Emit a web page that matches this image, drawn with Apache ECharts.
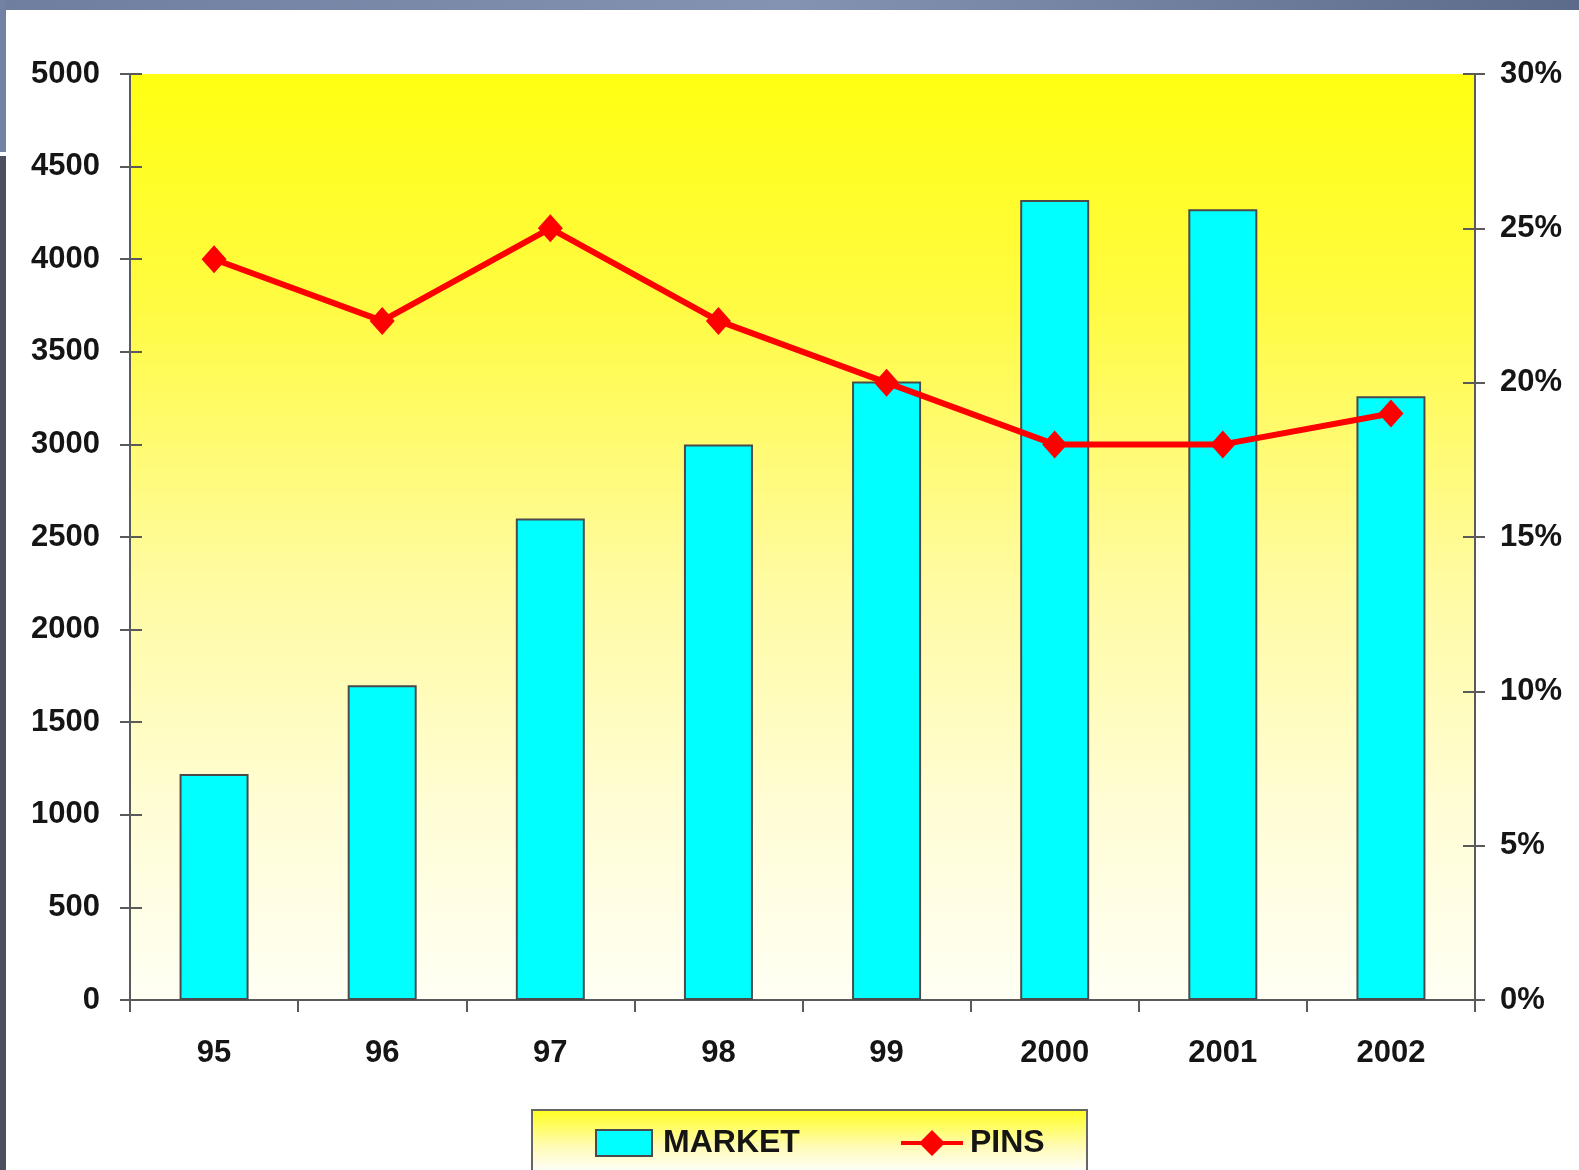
<!DOCTYPE html>
<html>
<head>
<meta charset="utf-8">
<title>MARKET / PINS</title>
<script src="https://cdn.jsdelivr.net/npm/echarts@6/dist/echarts.min.js"></script>
<style>
  html, body { margin: 0; padding: 0; background: #ffffff; }
  #chart { width: 1579px; height: 1170px; }
</style>
</head>
<body>
<div id="chart"></div>
<script>
// Years on the category axis
const years = ['95', '96', '97', '98', '99', '2000', '2001', '2002'];
// Market size (left axis)
const marketValues = [1220, 1700, 2600, 3000, 3340, 4320, 4270, 3260];
// PINS share in percent (right axis)
const pinsValues = [24, 22, 25, 22, 20, 18, 18, 19];
// Axis ranges
const leftMax = 5000, leftStep = 500;
const rightMax = 30, rightStep = 5;

const FONT = "'Liberation Sans Narrow', 'Arial Narrow', 'Liberation Sans', Arial, sans-serif";
const AXIS_COLOR = '#5a5a5a';

const chart = echarts.init(document.getElementById('chart'), null, { renderer: 'canvas' });

const labelStyle = {
  color: '#151515',
  fontFamily: FONT,
  fontWeight: 'bold',
  fontSize: 31
};

// red line with a diamond in the middle, used as the PINS legend key
const pinsIcon = 'path://M0,11H20L31,0L42,11H62V15H42L31,26L20,15H0Z';

const option = {
  animation: false,
  backgroundColor: '#ffffff',
  graphic: [
    // slide frame: top band and left strip
    {
      type: 'rect', z: -10, silent: true,
      shape: { x: 0, y: 0, width: 1579, height: 10 },
      style: {
        fill: new echarts.graphic.LinearGradient(0, 0, 1, 0, [
          { offset: 0, color: '#6f7e9e' },
          { offset: 0.5, color: '#8593b3' },
          { offset: 1, color: '#5d6b8b' }
        ])
      }
    },
    {
      type: 'rect', z: -10, silent: true,
      shape: { x: 0, y: 0, width: 6, height: 152 },
      style: { fill: '#7282a4' }
    },
    {
      type: 'rect', z: -10, silent: true,
      shape: { x: 0, y: 156, width: 6, height: 1014 },
      style: { fill: '#4b4f60' }
    },
    // legend panel
    {
      type: 'rect', z: 1, silent: true,
      shape: { x: 532, y: 1110, width: 555, height: 62 },
      style: {
        fill: new echarts.graphic.LinearGradient(0, 0, 0, 1, [
          { offset: 0, color: '#ffff1e' },
          { offset: 0.6, color: '#fffbb8' },
          { offset: 1, color: '#ffffff' }
        ]),
        stroke: '#666666',
        lineWidth: 2
      }
    }
  ],
  grid: {
    left: 130,
    right: 104,
    top: 74,
    bottom: 170,
    outerBoundsMode: 'none',
    containLabel: false,
    show: true,
    borderWidth: 0,
    backgroundColor: new echarts.graphic.LinearGradient(0, 0, 0, 1, [
      { offset: 0, color: '#ffff12' },
      { offset: 0.25, color: '#fffb42' },
      { offset: 0.55, color: '#fffba2' },
      { offset: 0.8, color: '#fffdd6' },
      { offset: 1, color: '#fffff4' }
    ])
  },
  legend: [
    {
      data: [{ name: 'MARKET', icon: 'rect' }],
      left: 590, top: 1122,
      itemWidth: 56, itemHeight: 26,
      textStyle: Object.assign({}, labelStyle, { fontSize: 32, padding: [0, 0, 0, 6] }),
      z: 5
    },
    {
      data: [{ name: 'PINS', icon: pinsIcon, itemStyle: { color: '#ff0000', borderWidth: 0 } }],
      left: 896, top: 1122,
      itemWidth: 62, itemHeight: 26,
      textStyle: Object.assign({}, labelStyle, { fontSize: 32, padding: [0, 0, 0, 2] }),
      z: 5
    }
  ],
  xAxis: {
    type: 'category',
    data: years,
    boundaryGap: true,
    axisLine: { lineStyle: { color: AXIS_COLOR, width: 2 } },
    axisTick: { show: true, length: 12, lineStyle: { color: AXIS_COLOR, width: 2 } },
    axisLabel: Object.assign({ margin: 38 }, labelStyle),
    splitLine: { show: false }
  },
  yAxis: [
    {
      type: 'value', position: 'left',
      min: 0, max: leftMax, interval: leftStep,
      axisLine: { show: true, lineStyle: { color: AXIS_COLOR, width: 2 } },
      axisTick: { show: true, length: 10, lineStyle: { color: AXIS_COLOR, width: 2 } },
      axisLabel: Object.assign({ margin: 30, formatter: (v) => String(v) }, labelStyle),
      splitLine: { show: false }
    },
    {
      type: 'value', position: 'right',
      min: 0, max: rightMax, interval: rightStep,
      axisLine: { show: true, lineStyle: { color: AXIS_COLOR, width: 2 } },
      axisTick: { show: true, length: 10, lineStyle: { color: AXIS_COLOR, width: 2 } },
      axisLabel: Object.assign({ margin: 25, formatter: '{value}%' }, labelStyle),
      splitLine: { show: false }
    },
    // inner halves of the tick marks on both value axes
    {
      type: 'value', position: 'left',
      min: 0, max: leftMax, interval: leftStep,
      axisLine: { show: false },
      axisTick: { show: true, inside: true, length: 12, lineStyle: { color: AXIS_COLOR, width: 2 } },
      axisLabel: { show: false },
      splitLine: { show: false }
    },
    {
      type: 'value', position: 'right',
      min: 0, max: rightMax, interval: rightStep,
      axisLine: { show: false },
      axisTick: { show: true, inside: true, length: 12, lineStyle: { color: AXIS_COLOR, width: 2 } },
      axisLabel: { show: false },
      splitLine: { show: false }
    }
  ],
  series: [
    {
      name: 'MARKET',
      type: 'bar',
      yAxisIndex: 0,
      data: marketValues,
      barWidth: 69,
      itemStyle: {
        color: '#00ffff',
        borderColor: '#4a4a4a',
        borderWidth: 2
      }
    },
    {
      name: 'PINS',
      type: 'line',
      yAxisIndex: 1,
      data: pinsValues,
      symbol: 'diamond',
      symbolSize: [25, 28],
      lineStyle: { color: '#ff0000', width: 6 },
      itemStyle: { color: '#ff0000' },
      z: 4
    }
  ]
};

chart.setOption(option);
</script>
</body>
</html>
